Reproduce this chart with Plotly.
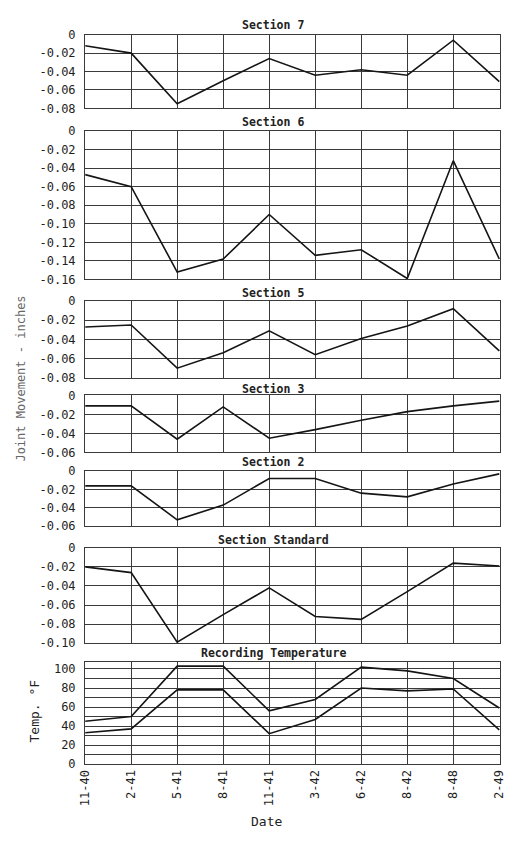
import plotly.graph_objects as go

dates = ["11-40", "2-41", "5-41", "8-41", "11-41", "3-42", "6-42", "8-42", "8-48", "2-49"]

sec7 = [-0.012, -0.020, -0.075, -0.050, -0.026, -0.044, -0.038, -0.044, -0.006, -0.051]
sec6 = [-0.047, -0.060, -0.152, -0.138, -0.090, -0.134, -0.128, -0.159, -0.032, -0.138]
sec5 = [-0.027, -0.025, -0.070, -0.054, -0.031, -0.056, -0.039, -0.026, -0.008, -0.052]
sec3 = [-0.011, -0.011, -0.046, -0.012, -0.045, -0.036, -0.026, -0.017, -0.011, -0.006]
sec2 = [-0.016, -0.016, -0.053, -0.037, -0.008, -0.008, -0.024, -0.028, -0.014, -0.003]
secstd = [-0.020, -0.026, -0.099, -0.070, -0.042, -0.072, -0.075, -0.046, -0.016, -0.019]
temp_high = [45, 50, 103, 103, 56, 68, 102, 98, 90, 59]
temp_low = [33, 37, 78, 78, 32, 47, 80, 77, 79, 36]

titles = ["Section 7", "Section 6", "Section 5", "Section 3", "Section 2",
          "Section Standard", "Recording Temperature"]

ticks_08 = [0, -0.02, -0.04, -0.06, -0.08]
ticks_16 = [0, -0.02, -0.04, -0.06, -0.08, -0.10, -0.12, -0.14, -0.16]
ticks_06 = [0, -0.02, -0.04, -0.06]
ticks_10 = [0, -0.02, -0.04, -0.06, -0.08, -0.10]
ticks_temp = [0, 20, 40, 60, 80, 100]

def lab(v):
    return "0" if v == 0 else ("%.2f" % v)

# the page body adds an 8px margin on every side; keep the page within the window
OFF = 8
W, H = 514 - OFF, 843 - 2 * OFF
VIS_RIGHT = 506  # rightmost visible page pixel

def px_x(p):
    return (p - OFF) / W

def px_y(p):
    return 1 - (p - OFF) / H

panels = [
    (sec7, ticks_08, (28, 103), [-0.08, 0]),
    (sec6, ticks_16, (126, 277), [-0.16, 0]),
    (sec5, ticks_08, (299, 377), [-0.08, 0]),
    (sec3, ticks_06, (395, 453), [-0.06, 0]),
    (sec2, ticks_06, (472, 528), [-0.06, 0]),
    (secstd, ticks_10, (550, 647), [-0.10, 0]),
    (None, ticks_temp, (666, 770), [0, 107.5]),
]
title_y = [18, 117, 291, 388, 463, 542, 657]

fig = go.Figure()
layout = {}
grid_col = "#3a3a3a"
mono = "DejaVu Sans Mono"
tick_font = dict(family=mono, size=12, color="#1e1e1e")
line_style = dict(color="#151515", width=1.6)

for i, (vals, ticks, (top, bot), yr) in enumerate(panels):
    n = i + 1
    xa = "xaxis" if n == 1 else f"xaxis{n}"
    ya = "yaxis" if n == 1 else f"yaxis{n}"
    xr = "x" if n == 1 else f"x{n}"
    yref = "y" if n == 1 else f"y{n}"
    series = [vals] if vals is not None else [temp_high, temp_low]
    for s in series:
        fig.add_trace(go.Scatter(x=list(range(len(dates))), y=s, mode="lines",
                                 line=line_style, xaxis=xr, yaxis=yref, showlegend=False,
                                 cliponaxis=False))
    last = (n == len(panels))
    layout[xa] = dict(
        domain=[px_x(80), px_x(VIS_RIGHT)], range=[0, 9.02], anchor=yref,
        tickmode="array", tickvals=list(range(len(dates))),
        ticktext=dates, showticklabels=last, tickangle=-90,
        tickfont=tick_font,
        showgrid=True, gridcolor=grid_col, gridwidth=1.3,
        showline=True, linecolor=grid_col, linewidth=1.3, mirror=True,
        zeroline=False, ticks="",
    )
    ydict = dict(
        domain=[px_y(bot), px_y(top)], range=yr, anchor=xr,
        tickmode="array", tickvals=ticks,
        ticktext=[lab(t) for t in ticks] if vals is not None else [str(t) for t in ticks],
        tickfont=tick_font,
        showgrid=True, gridcolor=grid_col, gridwidth=1.2,
        showline=True, linecolor=grid_col, linewidth=1.3, mirror=True,
        zeroline=False, ticks="", ticklabelstandoff=6,
    )
    if vals is None:
        ydict["minor"] = dict(dtick=10, tick0=0, showgrid=True, gridcolor=grid_col, gridwidth=1)
    layout[ya] = ydict

annotations = []
for t, ty in zip(titles, title_y):
    annotations.append(dict(text="<b>" + t + "</b>", x=px_x(273), y=px_y(ty), xref="paper",
                            yref="paper", showarrow=False, xanchor="center", yanchor="middle",
                            font=dict(family=mono, size=11.5, color="#222")))
annotations.append(dict(text="Date", x=px_x(266), y=px_y(828), xref="paper", yref="paper",
                        showarrow=False, xanchor="center", yanchor="middle",
                        font=dict(family=mono, size=13, color="#222")))
annotations.append(dict(text="Joint Movement - inches", x=px_x(14), y=px_y(378), xref="paper",
                        yref="paper", showarrow=False, textangle=-90, xanchor="center",
                        yanchor="middle", font=dict(family=mono, size=12, color="#666")))
annotations.append(dict(text="Temp. °F", x=px_x(28), y=px_y(716), xref="paper",
                        yref="paper", showarrow=False, textangle=-90, xanchor="center",
                        yanchor="middle", font=dict(family=mono, size=13, color="#222")))

fig.update_layout(**layout)
fig.update_layout(width=W, height=H, margin=dict(l=0, r=0, t=0, b=0),
                  paper_bgcolor="white", plot_bgcolor="white",
                  annotations=annotations, showlegend=False)
fig.write_html("out.html")
